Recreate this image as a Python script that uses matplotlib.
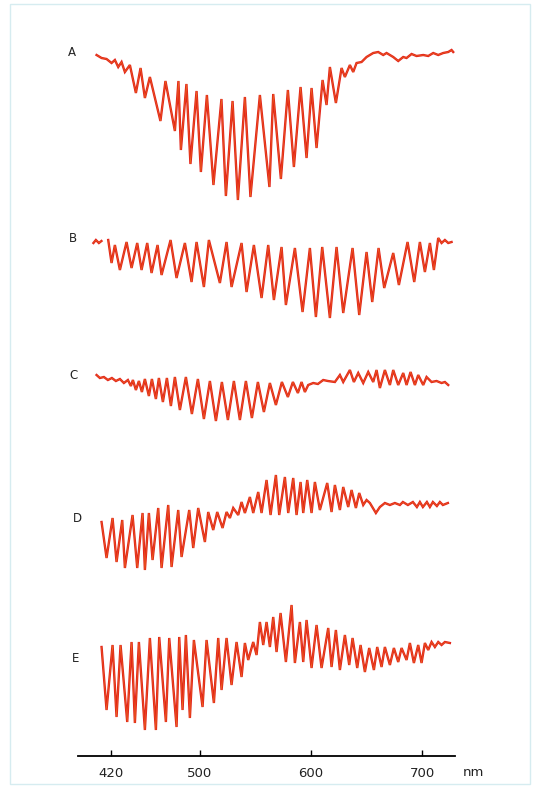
import numpy as np
import matplotlib
matplotlib.use('Agg')
import matplotlib.pyplot as plt
from matplotlib.patches import Rectangle

# wavelengths (nm) and trace readings (arbitrary units, larger = lower on the page)
a_nm = [407, 411.5, 416, 420.5, 423.5, 426.5, 429.5, 432.5, 437, 442.4,
        446.6, 450.5, 455, 464.5, 469, 477.5, 480.7, 482.9, 487.9, 491.5,
        497, 500.9, 506.3, 512.2, 519.4, 523.4, 529.4, 534.2, 540.5, 545.5,
        554, 562.6, 566, 572.9, 579.2, 584.6, 590.6, 596, 600.5, 605,
        610.4, 614, 617, 622.4, 627.5, 630.5, 635, 638, 641, 645.5,
        650, 653, 656, 660.5, 665, 668, 674, 678.5, 683, 686,
        690.5, 695, 701, 705.5, 710, 714.5, 719, 723.5, 726.5, 728]
a_val = [55, 58, 59, 63, 60, 67, 62, 72, 65, 93,
         68, 98, 77, 121, 81, 131, 81, 150, 84, 164,
         91, 172, 95, 185, 99, 196, 101, 200, 97, 197,
         95, 187, 94, 179, 90, 167, 87, 158, 88, 148,
         80, 105, 67, 103, 68, 77, 65, 72, 63, 62,
         57, 55, 53, 52, 55, 53, 57, 61, 57, 58,
         54, 56, 55, 56, 53, 55, 53, 52, 50, 52]

b0_nm = [404.2, 406.4, 409.1, 411.4]
b0_val = [243, 240, 243, 241]
b_nm = [417.5, 420.5, 423.5, 428, 434, 438.5, 443.6, 447.5, 452.6, 456.5,
        461.9, 465.5, 473.6, 479, 486.5, 492.5, 497, 503.6, 508.1, 518,
        524, 528.5, 537.5, 542, 548.6, 555.5, 561.5, 566.6, 573.5, 577.4,
        585.5, 592.4, 599, 604.4, 610.1, 617, 623, 629, 637.4, 643.4,
        650, 655.1, 660.8, 665.9, 674, 679.1, 686.9, 692.9, 698, 702.5,
        707, 710.6, 714.5, 717.5, 720.5, 723.5, 726.5]
b_val = [240, 263, 245, 270, 242, 268, 243, 270, 243, 273,
         245, 275, 240, 278, 243, 282, 242, 287, 240, 283,
         242, 287, 243, 292, 245, 298, 245, 300, 247, 305,
         248, 312, 248, 317, 247, 318, 247, 313, 248, 315,
         252, 302, 248, 288, 253, 285, 242, 282, 242, 272,
         243, 270, 238, 243, 240, 243, 242]

c_nm = [407, 410, 413.6, 417.2, 420.8, 424.4, 428, 431.6, 435.2, 437.9,
        439.7, 442.4, 445.1, 447.8, 450.5, 454.1, 456.8, 460.4, 463.1, 466.7,
        470.3, 473.9, 477.5, 482, 487.4, 492.8, 498.2, 503.6, 509, 514.4,
        519.8, 525.2, 530.6, 536, 541.4, 546.8, 552.2, 557.6, 563, 568.4,
        573.8, 579.2, 583.7, 588.2, 591.5, 594.5, 597.5, 602, 606.2, 611,
        615.2, 621.5, 626, 629, 635, 638.6, 642.5, 647, 651.5, 656,
        659, 662, 666.5, 671, 674, 678.5, 683, 686, 689.6, 693.5,
        696.5, 701, 704, 708.5, 713, 717.5, 720.5, 723.5]
c_val = [375, 378, 377, 380, 378, 381, 379, 383, 380, 386,
         380, 390, 381, 392, 379, 396, 379, 399, 378, 402,
         378, 406, 377, 410, 377, 414, 379, 419, 381, 421,
         382, 420, 381, 420, 381, 418, 382, 412, 383, 405,
         382, 397, 382, 393, 382, 392, 385, 383, 384, 380,
         381, 382, 375, 382, 370, 382, 373, 383, 372, 382,
         370, 388, 370, 385, 370, 385, 373, 385, 372, 385,
         375, 385, 377, 382, 381, 383, 382, 385]

d_nm = [411.5, 416, 421.4, 425, 430.1, 432.5, 439.4, 443.6, 448.4, 450.5,
        454.1, 457.4, 462.5, 465.5, 471.5, 474.5, 480.5, 483.5, 490.4, 494,
        498.5, 504.5, 507.5, 512, 515.6, 520.4, 524, 527, 530, 534.5,
        537.5, 540.5, 545, 548, 552.5, 555.5, 560, 563.6, 568.4, 571.4,
        576.5, 579.5, 584, 587, 590.6, 593, 596.6, 600.5, 603.5, 608,
        614.6, 618.5, 621.5, 626, 629, 633.5, 636.5, 640.4, 643.4, 647,
        650, 653, 658.4, 662, 666.5, 671, 675.5, 680, 682.7, 687.2,
        691.7, 695.3, 698, 700.7, 704.3, 707, 709.7, 713.3, 716, 718.7,
        723.2]
d_val = [522, 558, 518, 562, 520, 568, 515, 568, 513, 570,
         513, 560, 508, 568, 505, 567, 510, 557, 510, 548,
         508, 542, 512, 530, 512, 528, 512, 518, 508, 515,
         502, 513, 497, 513, 492, 513, 480, 515, 475, 515,
         477, 513, 478, 515, 482, 513, 480, 513, 482, 510,
         483, 512, 485, 510, 487, 507, 490, 508, 493, 505,
         500, 503, 513, 507, 503, 505, 503, 505, 502, 505,
         502, 507, 502, 507, 502, 507, 502, 506, 502, 505,
         503]

e_nm = [411.5, 416, 421.4, 425, 428.6, 434.6, 438.5, 441.5, 445.1, 450.5,
        455, 460.4, 463.4, 469.4, 472.4, 479, 481.4, 484.4, 487.4, 491,
        494.6, 502.4, 506, 512.6, 516.5, 519.5, 524, 528.5, 533, 537.5,
        540.5, 543.5, 548, 551, 554, 557, 560, 563, 566, 569,
        572.6, 577.4, 582.5, 585.5, 590, 593, 596, 600.5, 605, 609.5,
        615.5, 618.5, 622.4, 626, 630.5, 634.4, 637.4, 641.6, 644.6, 648.5,
        652.4, 656.6, 659.6, 663.5, 666.5, 671, 674.6, 678.5, 681.5, 686,
        689, 692.6, 696.5, 699.5, 702.5, 705.5, 708.5, 711.5, 714.5, 717.5,
        720.5, 725]
e_val = [647, 710, 645, 717, 645, 722, 642, 723, 642, 730,
         638, 730, 637, 722, 638, 727, 637, 710, 635, 718,
         640, 707, 640, 703, 638, 690, 638, 685, 642, 677,
         643, 660, 642, 655, 622, 645, 622, 647, 617, 652,
         613, 662, 605, 663, 622, 662, 620, 668, 625, 668,
         628, 667, 630, 670, 635, 665, 638, 668, 645, 672,
         648, 670, 647, 667, 647, 665, 648, 662, 648, 660,
         643, 663, 645, 663, 643, 650, 642, 647, 642, 645,
         642, 643]

trace_labels = ['A', 'B', 'C', 'D', 'E']
tick_nm = [420, 500, 600, 700]

red = '#e3241b'

fig = plt.figure(figsize=(5.4, 7.88), dpi=100)
fig.patch.set_facecolor('white')

# faint scan border
fig.patches.append(Rectangle((10/540, 4/788), 520/540, 780/788, transform=fig.transFigure,
                             fill=False, edgecolor='#d6ecf0', lw=1.0))

ax = fig.add_axes([0, 0, 1, 1])
ax.set_xlim(320.1, 806.1)
ax.set_ylim(788, 0)
ax.axis('off')

for xs, ys in [(a_nm, a_val), (b0_nm, b0_val), (b_nm, b_val), (c_nm, c_val),
               (d_nm, d_val), (e_nm, e_val)]:
    ax.plot(xs, ys, color=red, lw=1.7, solid_joinstyle='miter')
    ax.plot(xs, ys, color='#f0a020', lw=0.35, alpha=0.6)

label_pos = [(72, 52), (73, 238), (73, 375), (77, 518), (76, 658)]
for lab, (px, py) in zip(trace_labels, label_pos):
    fig.text(px/540, 1 - py/788, lab, fontsize=8.5, color='#222222',
             ha='center', va='center')

# wavelength axis
axx = fig.add_axes([78/540, 1 - 756/788, (455 - 78)/540, 0.001])
axx.set_xlim(390.3, 729.6)
axx.set_yticks([])
for s in ['top', 'left', 'right']:
    axx.spines[s].set_visible(False)
axx.spines['bottom'].set_linewidth(1.3)
axx.set_xticks(tick_nm)
axx.set_xticklabels([str(t) for t in tick_nm], fontsize=9.5, color='#222222')
axx.tick_params(axis='x', direction='in', length=4, width=1, pad=8)
axx.patch.set_alpha(0)
fig.text(463/540, 1 - 772/788, 'nm', fontsize=9.5, color='#222222', ha='left', va='center')

plt.savefig('out.png', dpi=100)
